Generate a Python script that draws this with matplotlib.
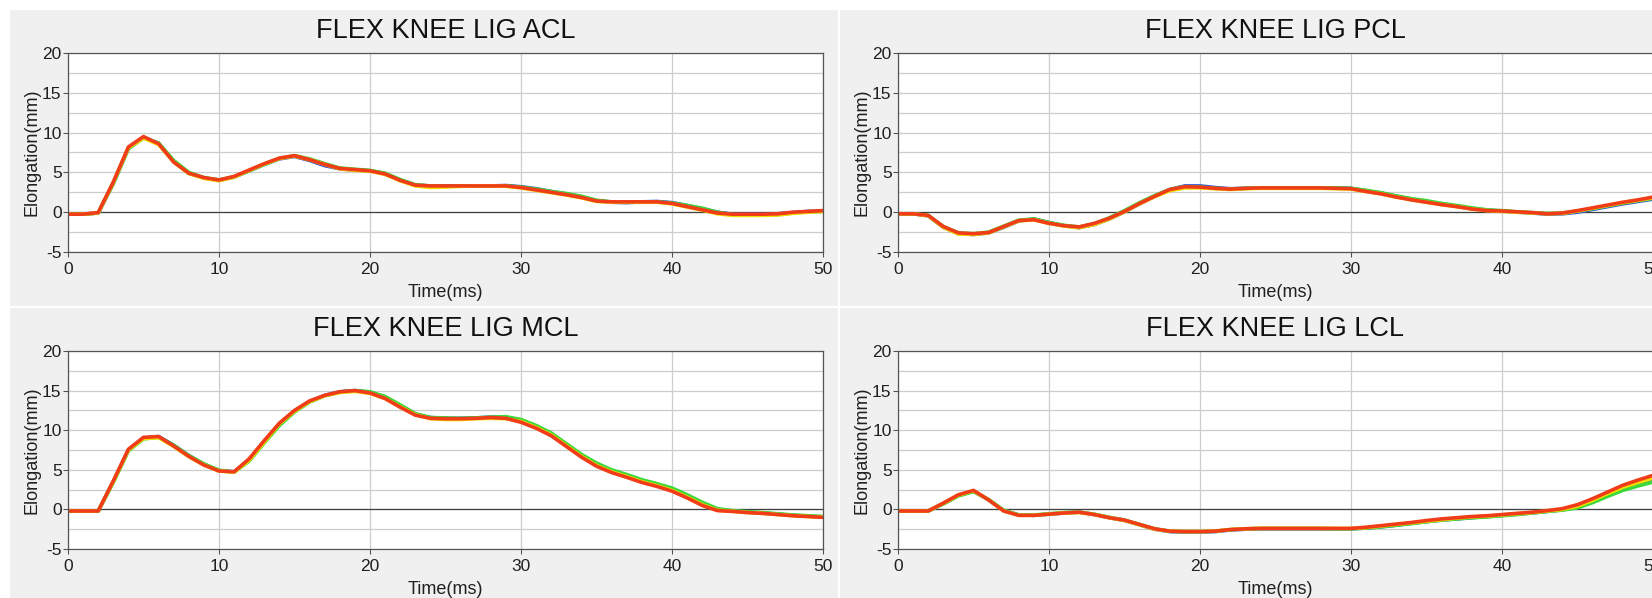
import numpy as np
import matplotlib
matplotlib.use('Agg')
import matplotlib.pyplot as plt
from matplotlib.patches import Rectangle

plt.rcParams['font.family'] = ['Liberation Sans', 'DejaVu Sans']
plt.rcParams['axes.unicode_minus'] = False

W, H = 1652, 598

# sample times (ms), one value per ms
time_ms = np.arange(0, 51)

titles = ['FLEX KNEE LIG ACL', 'FLEX KNEE LIG PCL',
          'FLEX KNEE LIG MCL', 'FLEX KNEE LIG LCL']

# ---- ACL ----
acl_red = [-0.25, -0.25, -0.05, 3.8, 8.2, 9.5, 8.6, 6.3, 4.9, 4.35,
           4.05, 4.5, 5.3, 6.1, 6.8, 7.1, 6.6, 6.0, 5.5, 5.35,
           5.2, 4.8, 4.0, 3.4, 3.3, 3.3, 3.3, 3.3, 3.3, 3.3,
           3.1, 2.8, 2.5, 2.2, 1.85, 1.4, 1.3, 1.3, 1.3, 1.3,
           1.1, 0.7, 0.3, -0.1, -0.25, -0.25, -0.25, -0.2, 0.0, 0.1,
           0.2]
acl_blue = [-0.25, -0.25, -0.1, 3.6, 8.0, 9.4, 8.6, 6.4, 4.9, 4.3,
            4.0, 4.4, 5.2, 6.0, 6.7, 7.0, 6.5, 5.85, 5.45, 5.3,
            5.2, 4.85, 4.05, 3.4, 3.3, 3.3, 3.3, 3.3, 3.3, 3.35,
            3.2, 2.95, 2.6, 2.3, 1.95, 1.45, 1.25, 1.2, 1.3, 1.35,
            1.2, 0.85, 0.45, 0.0, -0.25, -0.25, -0.25, -0.2, -0.05, 0.1,
            0.15]
acl_green = [-0.25, -0.25, -0.1, 3.6, 8.0, 9.3, 8.7, 6.5, 5.0, 4.35,
             4.05, 4.45, 5.2, 6.0, 6.75, 7.1, 6.7, 6.1, 5.55, 5.4,
             5.25, 4.9, 4.1, 3.45, 3.3, 3.25, 3.3, 3.3, 3.3, 3.3,
             3.15, 2.9, 2.6, 2.35, 2.0, 1.5, 1.3, 1.25, 1.25, 1.3,
             1.15, 0.85, 0.5, 0.0, -0.3, -0.35, -0.35, -0.3, -0.1, 0.05,
             0.1]
acl_yellow = [-0.25, -0.25, -0.1, 3.7, 8.1, 9.3, 8.5, 6.3, 4.85, 4.25,
              3.95, 4.4, 5.25, 6.05, 6.75, 7.05, 6.6, 6.0, 5.45, 5.25,
              5.15, 4.75, 3.95, 3.3, 3.1, 3.15, 3.25, 3.3, 3.3, 3.25,
              3.05, 2.75, 2.45, 2.15, 1.8, 1.35, 1.25, 1.25, 1.25, 1.25,
              1.05, 0.65, 0.25, -0.2, -0.4, -0.4, -0.4, -0.35, -0.15, 0.0,
              0.1]

# ---- PCL ----
pcl_red = [-0.2, -0.2, -0.4, -1.8, -2.6, -2.7, -2.55, -1.8, -1.05, -0.95,
           -1.4, -1.7, -1.85, -1.4, -0.75, 0.1, 1.1, 2.0, 2.85, 3.2,
           3.15, 3.0, 2.9, 3.0, 3.05, 3.05, 3.05, 3.05, 3.05, 3.0,
           2.95, 2.6, 2.3, 1.9, 1.55, 1.25, 0.95, 0.7, 0.4, 0.2,
           0.15, 0.05, -0.05, -0.2, -0.1, 0.2, 0.55, 0.9, 1.25, 1.55,
           1.9]
pcl_blue = [-0.2, -0.2, -0.45, -1.9, -2.7, -2.8, -2.6, -1.9, -1.1, -0.85,
            -1.3, -1.7, -1.95, -1.55, -0.85, 0.05, 1.05, 2.0, 2.85, 3.3,
            3.3, 3.1, 2.95, 3.0, 3.05, 3.05, 3.05, 3.05, 3.05, 3.05,
            3.0, 2.7, 2.4, 2.0, 1.65, 1.35, 1.05, 0.75, 0.45, 0.25,
            0.15, 0.0, -0.1, -0.25, -0.2, 0.0, 0.35, 0.7, 1.05, 1.35,
            1.65]
pcl_green = [-0.2, -0.2, -0.4, -1.8, -2.6, -2.7, -2.5, -1.75, -1.0, -0.85,
             -1.3, -1.65, -1.85, -1.45, -0.7, 0.2, 1.2, 2.1, 2.85, 3.2,
             3.15, 3.0, 2.9, 3.0, 3.05, 3.05, 3.05, 3.05, 3.05, 3.05,
             3.0, 2.75, 2.45, 2.05, 1.7, 1.45, 1.1, 0.85, 0.55, 0.3,
             0.2, 0.05, -0.05, -0.15, -0.1, 0.15, 0.45, 0.8, 1.15, 1.45,
             1.75]
pcl_yellow = [-0.2, -0.2, -0.45, -1.9, -2.75, -2.8, -2.6, -1.85, -1.1, -0.95,
              -1.4, -1.75, -1.95, -1.55, -0.85, 0.05, 1.05, 1.95, 2.7, 3.05,
              3.05, 2.95, 2.85, 2.95, 3.0, 3.0, 3.0, 3.0, 3.0, 2.95,
              2.9, 2.6, 2.3, 1.9, 1.55, 1.25, 0.95, 0.7, 0.4, 0.2,
              0.1, 0.0, -0.1, -0.2, -0.15, 0.15, 0.5, 0.85, 1.2, 1.5,
              1.8]

# ---- MCL ----
mcl_red = [-0.2, -0.2, -0.2, 3.6, 7.6, 9.1, 9.2, 8.0, 6.7, 5.6,
           4.85, 4.75, 6.4, 8.7, 10.9, 12.5, 13.7, 14.4, 14.85, 15.0,
           14.7, 14.0, 12.9, 11.9, 11.5, 11.45, 11.45, 11.5, 11.6, 11.5,
           11.0, 10.25, 9.3, 7.95, 6.6, 5.45, 4.65, 4.05, 3.4, 2.9,
           2.3, 1.45, 0.5, -0.15, -0.25, -0.4, -0.5, -0.65, -0.8, -0.9,
           -1.0]
mcl_blue = [-0.2, -0.2, -0.2, 3.5, 7.5, 9.0, 9.2, 8.1, 6.8, 5.7,
            4.9, 4.75, 6.2, 8.5, 10.7, 12.4, 13.6, 14.4, 14.85, 15.0,
            14.8, 14.2, 13.1, 12.0, 11.6, 11.5, 11.5, 11.55, 11.65, 11.65,
            11.25, 10.45, 9.5, 8.15, 6.8, 5.7, 4.85, 4.25, 3.6, 3.1,
            2.55, 1.7, 0.75, 0.0, -0.2, -0.35, -0.45, -0.6, -0.75, -0.85,
            -0.95]
mcl_green = [-0.2, -0.2, -0.2, 3.4, 7.4, 8.9, 9.1, 8.1, 6.8, 5.75,
             4.95, 4.7, 6.1, 8.4, 10.6, 12.3, 13.55, 14.35, 14.8, 15.0,
             14.85, 14.25, 13.2, 12.1, 11.6, 11.55, 11.5, 11.55, 11.65, 11.7,
             11.35, 10.6, 9.65, 8.3, 6.95, 5.85, 5.0, 4.4, 3.75, 3.25,
             2.7, 1.85, 0.9, 0.1, -0.15, -0.3, -0.4, -0.55, -0.7, -0.8,
             -0.9]
mcl_yellow = [-0.2, -0.2, -0.2, 3.5, 7.5, 8.95, 9.05, 7.95, 6.65, 5.6,
              4.85, 4.7, 6.2, 8.5, 10.8, 12.4, 13.6, 14.35, 14.75, 14.9,
              14.65, 14.0, 12.95, 11.95, 11.45, 11.35, 11.35, 11.45, 11.5, 11.45,
              11.1, 10.35, 9.4, 8.05, 6.7, 5.55, 4.75, 4.15, 3.5, 3.0,
              2.4, 1.55, 0.6, -0.1, -0.25, -0.4, -0.5, -0.65, -0.8, -0.9,
              -1.0]

# ---- LCL ----
lcl_red = [-0.2, -0.2, -0.2, 0.8, 1.85, 2.4, 1.2, -0.2, -0.75, -0.75,
           -0.6, -0.45, -0.35, -0.65, -1.05, -1.35, -1.9, -2.45, -2.75, -2.8,
           -2.8, -2.75, -2.55, -2.45, -2.4, -2.4, -2.4, -2.4, -2.4, -2.4,
           -2.4, -2.25, -2.05, -1.85, -1.65, -1.4, -1.2, -1.05, -0.9, -0.8,
           -0.65, -0.5, -0.35, -0.15, 0.1, 0.6, 1.35, 2.2, 3.05, 3.7,
           4.3]
lcl_blue = [-0.2, -0.2, -0.2, 0.7, 1.75, 2.3, 1.2, -0.15, -0.7, -0.75,
            -0.6, -0.45, -0.35, -0.65, -1.05, -1.4, -1.95, -2.5, -2.8, -2.85,
            -2.85, -2.8, -2.6, -2.5, -2.45, -2.45, -2.45, -2.45, -2.45, -2.45,
            -2.45, -2.35, -2.2, -2.0, -1.75, -1.55, -1.35, -1.2, -1.05, -0.9,
            -0.75, -0.6, -0.45, -0.25, -0.05, 0.3, 1.0, 1.8, 2.55, 3.1,
            3.6]
lcl_green = [-0.2, -0.2, -0.2, 0.7, 1.7, 2.25, 1.25, -0.1, -0.7, -0.7,
             -0.55, -0.4, -0.35, -0.6, -1.0, -1.35, -1.9, -2.45, -2.75, -2.8,
             -2.8, -2.75, -2.55, -2.45, -2.4, -2.4, -2.4, -2.4, -2.4, -2.45,
             -2.45, -2.35, -2.2, -2.0, -1.8, -1.55, -1.35, -1.2, -1.05, -0.95,
             -0.8, -0.65, -0.45, -0.25, -0.1, 0.2, 0.85, 1.65, 2.4, 2.95,
             3.45]
lcl_yellow = [-0.2, -0.2, -0.2, 0.75, 1.8, 2.35, 1.2, -0.2, -0.75, -0.75,
              -0.6, -0.45, -0.4, -0.65, -1.05, -1.4, -1.95, -2.5, -2.75, -2.8,
              -2.8, -2.75, -2.55, -2.45, -2.4, -2.4, -2.4, -2.4, -2.4, -2.4,
              -2.4, -2.3, -2.1, -1.9, -1.7, -1.5, -1.3, -1.1, -0.95, -0.85,
              -0.7, -0.55, -0.4, -0.2, 0.0, 0.4, 1.15, 2.0, 2.8, 3.4,
              3.95]

series_colors = ['#2f55d4', '#3ad83a', '#f2df00', '#f03c18']
panel_data = [
    [acl_blue, acl_green, acl_yellow, acl_red],
    [pcl_blue, pcl_green, pcl_yellow, pcl_red],
    [mcl_blue, mcl_green, mcl_yellow, mcl_red],
    [lcl_blue, lcl_green, lcl_yellow, lcl_red],
]


def frac(x0, y0, x1, y1):
    # pixel box (top-left origin) -> figure fraction rect
    return [x0 / W, 1 - y1 / H, (x1 - x0) / W, (y1 - y0) / H]


fig = plt.figure(figsize=(W / 100, H / 100), dpi=100, facecolor='white')

# gray panel backgrounds
for box in [(10, 10, 838, 306), (840, 10, 1652, 306),
            (10, 308, 838, 598), (840, 308, 1652, 598)]:
    r = frac(*box)
    fig.patches.append(Rectangle((r[0], r[1]), r[2], r[3],
                                 transform=fig.transFigure,
                                 facecolor='#f0f0f0', edgecolor='none',
                                 zorder=-5))

axes_boxes = [(68, 53, 823, 252), (898, 53, 1653, 252),
              (68, 351, 823, 549), (898, 351, 1653, 549)]

for i in range(4):
    x0, y0, x1, y1 = axes_boxes[i]
    ax = fig.add_axes(frac(x0, y0, x1, y1))
    ax.set_zorder(1)
    ax.set_facecolor('white')
    ax.set_xlim(0, 50)
    ax.set_ylim(-5, 20)
    ax.set_xticks(range(0, 51, 10))
    ax.set_yticks(range(-5, 21, 5))
    ax.set_yticks(np.arange(-5, 20.1, 2.5), minor=True)
    ax.tick_params(which='major', length=3.6, width=0.75, color='#505050',
                   labelsize=12.5, labelcolor='#202020', pad=1)
    ax.tick_params(axis='x', pad=3.5)
    ax.tick_params(which='minor', length=0)
    ax.set_axisbelow(True)
    ax.grid(which='both', axis='y', color='#cdcdcd', lw=0.9)
    ax.grid(which='major', axis='x', color='#cdcdcd', lw=0.9)
    for s in ax.spines.values():
        s.set_color('#555555')
        s.set_linewidth(0.9)
    ax.axhline(0, color='#404040', lw=0.9, zorder=1.5)

    for vals, c in zip(panel_data[i], series_colors):
        ax.plot(time_ms, vals, color=c, lw=2.6,
                solid_joinstyle='round', solid_capstyle='round', zorder=2)

    ax.set_ylabel('Elongation(mm)', fontsize=13, color='#202020')
    ax.yaxis.set_label_coords(-28 / (x1 - x0), 0.5)
    ax.set_xlabel('Time(ms)', fontsize=13, color='#202020')
    ax.xaxis.set_label_coords(0.5, -0.16)
    ax.text(0.5, 1 + 15 / (y1 - y0), titles[i], transform=ax.transAxes,
            ha='center', va='baseline', fontsize=19.5, color='#111111')

fig.savefig('out.png', dpi=100)
